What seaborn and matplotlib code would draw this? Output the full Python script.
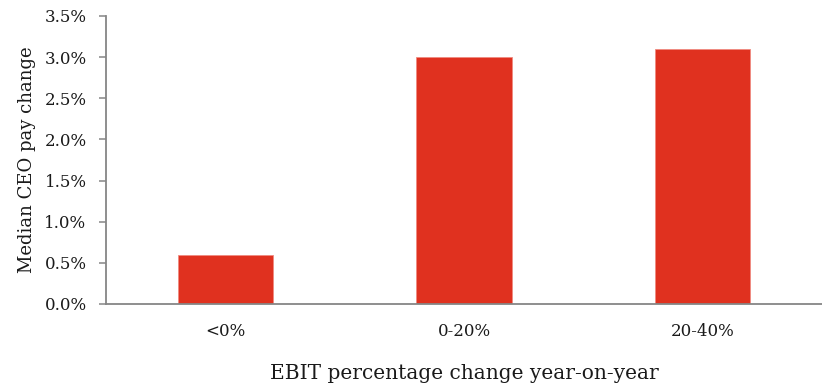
import matplotlib
matplotlib.use("Agg")
import matplotlib.pyplot as plt
import matplotlib.ticker as mticker
import pandas as pd
import seaborn as sns

# EBIT growth buckets and median CEO pay change for each
categories = ["<0%", "0-20%", "20-40%"]
pay_change = [0.006, 0.030, 0.031]

df = pd.DataFrame({"ebit": categories, "pay": pay_change})

sns.set_theme(style="white")
plt.rcParams["font.family"] = ["DejaVu Serif"]

fig = plt.figure(figsize=(8.22, 3.88), dpi=100)
ax = fig.add_axes([106 / 822, 1 - 304 / 388, (822 - 106) / 822, (304 - 16) / 388])

sns.barplot(data=df, x="ebit", y="pay", color="#E0311F", saturation=1,
            width=0.40, ax=ax, edgecolor="#F08A80", linewidth=0.6)

ax.set_ylim(0, 0.035)
ax.set_xlim(-0.5, 2.5)
ax.yaxis.set_major_locator(mticker.MultipleLocator(0.005))
ax.yaxis.set_major_formatter(mticker.PercentFormatter(1.0, decimals=1))

# category boundary ticks on the x axis
ax.set_xticks([-0.5, 0.5, 1.5], minor=True)
ax.tick_params(axis="x", which="major", length=0, pad=14, labelsize=12, colors="#1a1a1a")
ax.tick_params(axis="x", which="minor", length=5, width=1.1, color="#868686", direction="out")
ax.tick_params(axis="y", which="major", length=5, width=1.1, color="#868686",
               direction="out", left=True, pad=9, labelsize=12, labelcolor="#1a1a1a")

for side in ("top", "right"):
    ax.spines[side].set_visible(False)
for side in ("left", "bottom"):
    ax.spines[side].set_color("#868686")
    ax.spines[side].set_linewidth(1.3)

ax.set_xlabel("EBIT percentage change year-on-year", fontsize=14.5, color="#1a1a1a", labelpad=17)
ax.set_ylabel("Median CEO pay change", fontsize=13, color="#1a1a1a", labelpad=6)

fig.savefig("out.png", dpi=100)
